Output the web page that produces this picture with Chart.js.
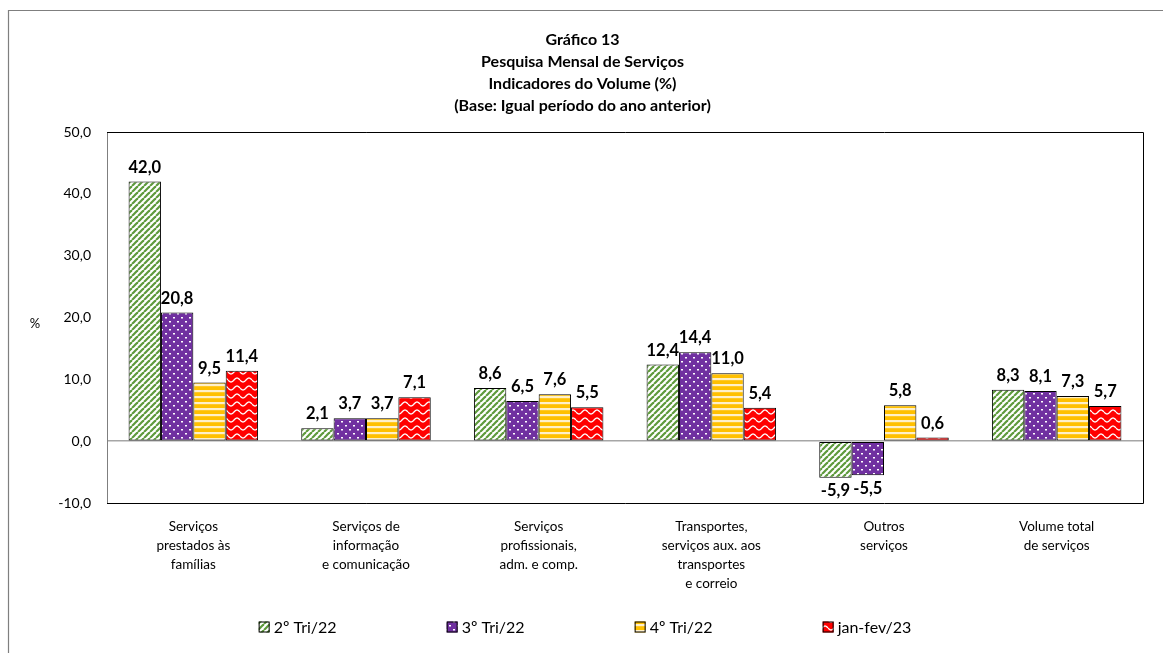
<!DOCTYPE html>
<html><head><meta charset="utf-8">
<script src="https://cdn.jsdelivr.net/npm/chart.js@4/dist/chart.umd.min.js"></script>
<style>html,body{margin:0;padding:0;background:#fff}#wrap{width:1163px;height:653px;position:relative}</style>
</head><body><div id="wrap"><canvas id="c" width="1163" height="653"></canvas></div>
<script>
const categories = [
  ["Serviços","prestados às","famílias"],
  ["Serviços de","informação","e comunicação"],
  ["Serviços","profissionais,","adm. e comp."],
  ["Transportes,","serviços aux. aos","transportes","e correio"],
  ["Outros","serviços"],
  ["Volume total","de serviços"]
];
const seriesNames = ["2º Tri/22","3º Tri/22","4º Tri/22","jan-fev/23"];
const tri2_22 = [42.0, 2.1, 8.6, 12.4, -5.9, 8.3];
const tri3_22 = [20.8, 3.7, 6.5, 14.4, -5.5, 8.1];
const tri4_22 = [9.5, 3.7, 7.6, 11.0, 5.8, 7.3];
const janfev23 = [11.4, 7.1, 5.5, 5.4, 0.6, 5.7];
const yTicks = [-10, 0, 10, 20, 30, 40, 50];
const titleLines = ["Gráfico 13","Pesquisa Mensal de Serviços","Indicadores do Volume (%)","(Base: Igual período do ano anterior)"];

function mk(w,h,draw){const c=document.createElement('canvas');c.width=w;c.height=h;const g=c.getContext('2d');draw(g);return g.createPattern(c,'repeat');}
const pGreen = mk(6,6,g=>{g.fillStyle='#ffffff';g.fillRect(0,0,6,6);g.strokeStyle='#5E9A3C';g.lineWidth=2.2;
  for(let k=-6;k<=12;k+=6){g.beginPath();g.moveTo(k,6);g.lineTo(k+6,0);g.stroke();}});
const pPurple = mk(8,8,g=>{g.fillStyle='#7030A0';g.fillRect(0,0,8,8);g.fillStyle='#ffffff';
  g.fillRect(1,1,2,1.5);g.fillRect(5,5,2,1.5);});
const pYellow = mk(6,6,g=>{g.fillStyle='#FFC000';g.fillRect(0,0,6,6);g.fillStyle='#FFF0C8';g.fillRect(0,0,6,2.2);});
const pRed = mk(12,8,g=>{g.fillStyle='#FF0000';g.fillRect(0,0,12,8);g.strokeStyle='#ffffff';g.lineWidth=1.3;
  g.beginPath();for(let x=0;x<=12;x+=0.5){const y=4+2*Math.sin(x/12*2*Math.PI);if(x===0)g.moveTo(x,y);else g.lineTo(x,y);}g.stroke();});
const patterns=[pGreen,pPurple,pYellow,pRed];
const values=[tri2_22,tri3_22,tri4_22,janfev23];
const fmt=v=>v.toFixed(1).replace('.',',');

const framePlugin={id:'frame',
  beforeDraw(chart){const ctx=chart.ctx;ctx.save();ctx.strokeStyle='#7f7f7f';ctx.lineWidth=1.2;
    ctx.beginPath();ctx.moveTo(8.5,660);ctx.lineTo(8.5,10.5);ctx.lineTo(1170,10.5);ctx.stroke();ctx.restore();},
  afterDraw(chart){const ctx=chart.ctx,a=chart.chartArea;ctx.save();
    ctx.strokeStyle='#000';ctx.lineWidth=1;ctx.beginPath();
    ctx.moveTo(a.left,a.top+0.5);ctx.lineTo(a.right+0.5,a.top+0.5);ctx.lineTo(a.right+0.5,a.bottom+0.5);ctx.lineTo(a.left,a.bottom+0.5);ctx.stroke();
    ctx.fillStyle='#000';ctx.font='13px Lato';ctx.textAlign='center';ctx.textBaseline='middle';
    ctx.fillText('%',35,(a.top+a.bottom)/2+6);
    ctx.font='bold 16.5px Lato';
    chart.data.datasets.forEach((ds,i)=>{const meta=chart.getDatasetMeta(i);
      meta.data.forEach((bar,j)=>{const v=ds.data[j];
        if(v>=0){ctx.textBaseline='bottom';ctx.fillText(fmt(v),bar.x,bar.y-6);}
        else{ctx.textBaseline='top';ctx.fillText(fmt(v),bar.x,bar.y+5);}});});
    // legend
    ctx.font='16px Lato';ctx.textAlign='left';ctx.textBaseline='middle';
    const step=188, ly=627;
    const lastW=15+ctx.measureText(seriesNames[seriesNames.length-1]).width;
    const cx=(a.left+a.right)/2-40;
    let x0=cx-((seriesNames.length-1)*step+lastW)/2;
    chart.data.datasets.forEach((ds,i)=>{const x=x0+i*step;
      ctx.fillStyle=ds.backgroundColor;ctx.fillRect(x,ly-5.5,11,11);
      ctx.strokeStyle='#000';ctx.lineWidth=1;ctx.strokeRect(x+0.5,ly-5,10,10);
      ctx.fillStyle='#000';ctx.fillText(ds.label,x+15,ly+1);});
    ctx.restore();}
};

new Chart(document.getElementById('c'),{
  type:'bar',
  data:{labels:categories,datasets:seriesNames.map((n,i)=>({label:n,data:values[i],backgroundColor:patterns[i],borderColor:'#000',borderWidth:1,borderSkipped:false,categoryPercentage:0.75,barPercentage:1}))},
  options:{responsive:false,animation:false,
    layout:{padding:{left:22,right:20,top:29,bottom:0}},
    plugins:{
      title:{display:true,text:titleLines,color:'#000',font:{family:'Lato',size:16,weight:'bold',lineHeight:1.375},padding:{top:0,bottom:15}},
      legend:{display:false},
      tooltip:{enabled:false}
    },
    scales:{
      x:{grid:{display:false,drawTicks:false},border:{display:false},afterFit(s){s.height=150;},
        ticks:{color:'#000',font:{family:'Lato',size:13.5,lineHeight:1.4},padding:14,maxRotation:0,autoSkip:false}},
      y:{min:-10,max:50,afterBuildTicks(s){s.ticks=yTicks.map(v=>({value:v}));},
        afterFit(s){s.width=85;},
        grid:{drawTicks:false,color:c=>c.tick&&c.tick.value===0?'#a6a6a6':'rgba(0,0,0,0)',lineWidth:1.5},
        border:{display:true,color:'#7f7f7f',width:1},
        ticks:{color:'#000',font:{family:'Lato',size:14},padding:16,callback:v=>fmt(v)}}
    }
  },
  plugins:[framePlugin]
});
</script></body></html>
